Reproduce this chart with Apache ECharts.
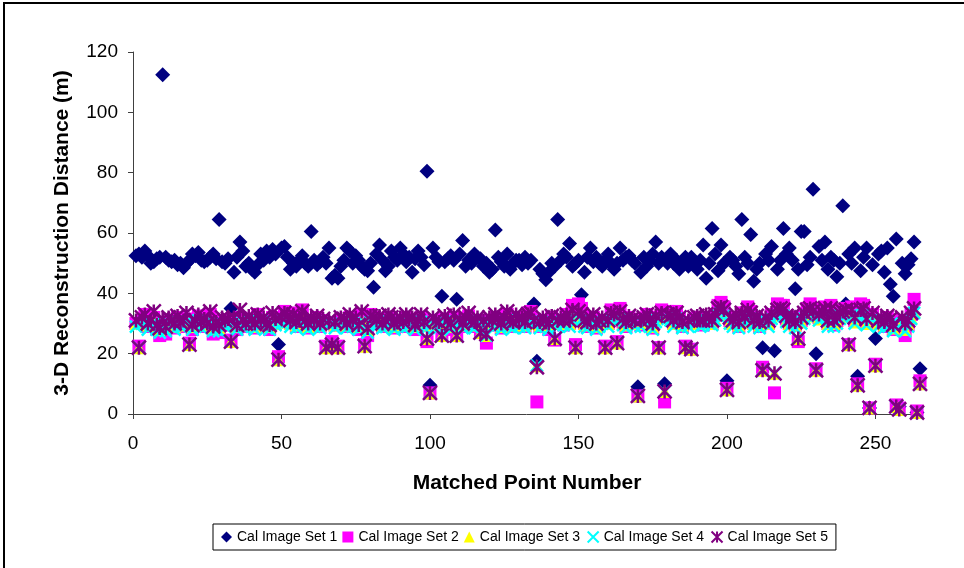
<!DOCTYPE html>
<html>
<head>
<meta charset="utf-8">
<script src="https://cdn.jsdelivr.net/npm/echarts@6/dist/echarts.min.js"></script>
<style>
html,body{margin:0;padding:0;background:#fff;}
#chart{width:964px;height:568px;}
</style>
</head>
<body>
<div id="chart"></div>
<script>
// ---- data (point number = position in array, starting at 1) ----
const seriesNames = ['Cal Image Set 1','Cal Image Set 2','Cal Image Set 3','Cal Image Set 4','Cal Image Set 5'];
const xTicks = [0, 50, 100, 150, 200, 250];
const yTicks = [0, 20, 40, 60, 80, 100, 120];

const set1 = [
52.5,53,52,54,52.5,50,50.5,51.5,52,112.5,
52,51,50.5,51,49.5,50,48.5,50,51,53,
52.5,53.5,51,50.5,51,52,53,51.5,64.5,50.5,
50,51.5,35,47,52,57,54,49,50,48,
47,49.5,53,51,54,52,54.5,53,23,55,
55.5,52,48,50,49,51,52.5,50,49,60.5,
51,49.5,50.5,52,50,55,45,46,45,49,
51,55,54,50,52.5,51,49,48,47.5,50,
42,53,56,51,47.5,49,54,52,51,55,
53,50.5,52,47,51.5,54,52,49.5,80.5,9.5,
55,52,50.5,39,50.5,51.5,52.5,51,38,53,
57.5,49,51,50,53,52,51.5,49,50,47,
48,61,52,50.5,49,53,48,50,51,51,
49.5,52,50,51,36.5,17.5,48,46.5,44.5,47,
50,49,64.5,51,53,52,56.5,49,50,51,
39.5,47,52,55,50.5,52,50,49,51,53,
50,48,50,55,51,52,52.5,51,50,9,
47,52,49,51,53,57,50,52,10,50,
53,50,51,48,50,52,49,52,50.5,48,
51,56,45,50,61.5,53,47.5,56,50,11,
52,51,49,46.5,64.5,52,50,59.5,44,48,
50,22,53,51,55.5,21,48,51,61.5,53,
55,51,41.5,48,60.5,60.5,49.5,52,74.5,20,
55.5,51,57,48,52,51,45.5,50,69,36.5,
53,50,55,12.5,47.5,52,55,2,49.5,25,
53,54,47,55,43,39,58,2.5,50,46.5,
49.5,51.5,57,0.5,15
];

const set2 = [
30,22.5,31,33,29,30.5,32,28,26,29.5,
26.5,31,30,28.5,32,29,30,31.5,23.5,28,
30,32.5,29,31,30,33,26.5,28,27,31,
29.5,30,24.5,31,28,32,30,29,31.5,30,
28.5,33,30,31,29,28,32,30.5,19,31,
34,32,30,33.5,29,31,34.5,30,28.5,31,
30,32,29,31,22.5,30,24,29.5,22.5,31,
30.5,29,32,30,31,28,33,23,26,33,
32,30,31.5,29,30,32,31,28.5,30,31,
29,32,30.5,31,28,30,32,29.5,24,7,
31,30,29,26.5,31.5,30,28,32,26,30.5,
29,31,32.5,30,29,31,27,30,23.5,31,
29.5,32,30,28.5,31,33,30,29,32,30.5,
31,29,33.5,34,30,4,29,31,30.5,28,
32,24.5,30,31,29.5,33,30,36,23,36.5,
35,30,29,31,32,28.5,30,31,22.5,30,
34.5,33,24,35,30.5,29,32,31,30,6,
29.5,31,33,30,28.5,32,22,34.5,4,34,
33,30,34,31.5,29,22.5,30,21.5,31,32,
30,29.5,32,31,30,33,36,37,35.5,8.5,
31,30,32,29,33.5,31,35.5,34,30,32,
29,15.5,31,30,33,7,36.5,36,36,31.5,
30,32,29.5,24,31,33,35,36.5,35,15,
32,34,35.5,30,36,29.5,31,33,34.5,35,
23,35.5,31,10,36.5,36,30.5,2,33,16.5,
30,31,29,32,30.5,28,3,2,31,26,
29.5,33,38,1,11
];

const set3 = [
30,22,30.5,31,29.5,30,31,29,28,30,
28.5,30.5,30,29,31,29.5,30,31,23,29,
30,31.5,29.5,30.5,30,31,28.5,29,28.5,30.5,
30,30,24,30.5,29,31,30,29.5,31,30,
29,31.5,30,30.5,29.5,29,31,30,18,30.5,
31,31,30,31.5,29.5,30.5,31.5,30,29,30.5,
30,31,29.5,30.5,22,30,23,29.5,22,30.5,
30,29.5,31,30,30.5,29,31,22.5,28,31,
31,30,30.5,29.5,30,31,30.5,29,30,30.5,
29.5,31,30,30.5,29,30,31,29.5,25,7,
30.5,30,29.5,26,31,30,29,31,26,30,
29.5,30.5,31,30,29.5,30.5,27,30,26,30.5,
30,31,30,29,30.5,31.5,30,29.5,31,30,
30.5,29.5,31,31,30,16,29.5,30.5,30,29,
31,25,30,30.5,30,31.5,30,32,22,32.5,
31.5,30,29.5,30.5,31,29,30,30.5,22,30,
32,31.5,23.5,32,30,29.5,31,30.5,30,6,
30,30.5,31.5,30,29,31,22,32,7.5,32,
31.5,30,32,31,29.5,22,30,21.5,30.5,31,
30,30,31.5,30.5,30,31.5,33,34,33,8,
30.5,30,31.5,29.5,32,30.5,33,32,30,31,
29.5,14.5,30.5,30,32,13.5,33,33.5,33,31,
30,31,29.5,25,30.5,32,33,33.5,32.5,14.5,
31.5,32.5,33,30,33.5,30,30.5,32,32.5,33,
23,33,30.5,9.5,33,33.5,30,2,32,16,
30,30.5,29.5,31,30,28.5,2.5,1.5,30.5,28,
30,32,34,0.5,10
];

const set4 = [
29,22,30,30.5,28,29.5,30,28,27,29,
27.5,30,29,28,30.5,29,29,30.5,23,28,
29,31,28.5,30,29.5,30.5,27.5,28,27.5,30,
29,29.5,24,30,28,30.5,29,28.5,30.5,29,
28,31,29.5,30,28.5,28,30.5,29.5,18,30,
30.5,30.5,29,31,28.5,30,31,29,28,30,
29,30.5,28.5,30,22,29.5,23,28.5,22,30,
29.5,28.5,30.5,29,30,28,30.5,22.5,27,30.5,
30.5,29,30,28.5,29,30.5,30,28,29,30,
28.5,30.5,29.5,30,28,29,30.5,28.5,25,7,
30,29,28.5,26,30.5,29,28,30.5,26,29.5,
28.5,30,30.5,29,28.5,30,27,29,26,30,
29,30.5,29.5,28,30,31,29,28.5,30.5,29,
30,28.5,30.5,30.5,29.5,16,28.5,30,29,28,
30.5,25,29,30,29.5,31,29,31.5,22,32,
31,29,28.5,30,30.5,28,29,30,22,29,
31.5,31,23.5,31.5,29.5,28.5,30.5,30,29,6,
29,30,31,29,28,30.5,22,31.5,7.5,31.5,
31,29,31.5,30.5,28.5,22,29,21.5,30,30.5,
29,29.5,31,30,29.5,31,32.5,33.5,32.5,8,
30,29,31,28.5,31.5,30,32.5,31.5,29,30.5,
28.5,14.5,30,29,31.5,13.5,32.5,33,32.5,30.5,
29,30.5,28.5,25,30,31.5,32.5,33,32,14.5,
31,32,32.5,29,33,29,30,31.5,32,32.5,
23,32.5,30,9.5,32.5,33,29.5,2,31.5,16,
29,30,28.5,30.5,29.5,27.5,2.5,1.5,30,27.5,
29,31.5,33.5,0.5,10
];

const set5 = [
31,22,32,33,30,31,34,29.5,28.5,31.5,
29,32,31,30,32.5,30.5,31,33.5,23,29.5,
31,33,30.5,31.5,30,34,29,30.5,29.5,32,
31,31.5,24,32,29.5,34.5,31,30,32.5,31,
30,33,31,32,30,29.5,33.5,31.5,18,32,
33.5,32.5,31,33,30.5,32,34,31,30,32,
31,32.5,30,31.5,22,31,23,30.5,22,32,
31.5,30,33,31,32,29.5,34,22.5,28.5,32.5,
32,31,32.5,30,31,33,32,30,31,32,
30.5,33,31.5,32,29.5,31,33,30.5,25,7,
32,31,30.5,26,32.5,31,30,33,26,31.5,
30,32,33.5,31,30.5,32,27,31,26.5,32,
31,33,31.5,30,32,34,31,30.5,33,31.5,
32,30.5,33,33.5,31,15.5,30.5,32,31,30,
32.5,25,31,32,31,33,31,34.5,22,34,
33,31,30.5,32,33,30,31,32,22,31,
33.5,33,23.5,34,31.5,30.5,32.5,31.5,31,6,
31,32,33,31.5,30,32.5,22,33.5,7.5,33,
32.5,31,33.5,32,30.5,22,31,21.5,32,32.5,
31,31,33,32,31,33,35,35.5,34.5,8,
32,31,33,30.5,33.5,32,34.5,33.5,31,32.5,
30.5,14.5,32,31,33.5,13.5,34.5,35,34.5,32.5,
31,32.5,30.5,25,32,33.5,34.5,35,34,14.5,
33,34,35,31,35,31,32,33.5,34,34.5,
23,34.5,32,9.5,34.5,35,31.5,2,33.5,16,
31,32,30.5,32.5,31.5,29.5,2.5,1.5,32,30,
31,33.5,35,0.5,10
];

// ---- chart ----
const FONT = 'Liberation Sans, Arial, sans-serif';
function toPairs(arr){ return arr.map((v,i)=>[i+1, v]); }

const xPath = 'path://M0,0L10,10M10,0L0,10';
const starPath = 'path://M0,0L10,10M10,0L0,10M5,0L5,10';

const chart = echarts.init(document.getElementById('chart'), null, {renderer:'canvas'});
chart.setOption({
  animation:false,
  backgroundColor:'#fff',
  grid:{left:133, right:44, top:52, bottom:154, containLabel:false},
  xAxis:{
    type:'value', min:0, max:265,
    axisLine:{show:true, onZero:false, lineStyle:{color:'#404040', width:1}},
    axisTick:{show:true, length:5, inside:false, customValues:xTicks, lineStyle:{color:'#404040'}},
    axisLabel:{customValues:xTicks, margin:20, color:'#000', fontSize:19, fontFamily:FONT},
    splitLine:{show:false}
  },
  yAxis:{
    type:'value', min:0, max:120, interval:20,
    axisLine:{show:true, lineStyle:{color:'#404040', width:1}},
    axisTick:{show:true, length:5, inside:false, lineStyle:{color:'#404040'}},
    axisLabel:{margin:15, color:'#000', fontSize:19, fontFamily:FONT},
    splitLine:{show:false}
  },
  legend:{
    left:213, top:524, orient:'horizontal',
    padding:[5,8], itemGap:5, itemWidth:11, itemHeight:11,
    borderColor:'#000', borderWidth:1,
    textStyle:{fontSize:14, fontFamily:FONT, color:'#000'},
    data:seriesNames
  },
  graphic:[
    {type:'rect', shape:{x:4, y:3, width:980, height:590}, style:{fill:'none', stroke:'#000', lineWidth:2}, silent:true},
    {type:'text', x:527, y:483, style:{text:'Matched Point Number', font:'bold 21px '+FONT, fill:'#000', textAlign:'center', textVerticalAlign:'middle'}},
    {type:'text', x:62, y:233, rotation:Math.PI/2, style:{text:'3-D Reconstruction Distance (m)', font:'bold 21px '+FONT, fill:'#000', textAlign:'center', textVerticalAlign:'middle'}}
  ],
  series:[
    {name:seriesNames[0], type:'scatter', symbol:'diamond', symbolSize:15, itemStyle:{color:'#000080', opacity:1}, data:toPairs(set1)},
    {name:seriesNames[1], type:'scatter', symbol:'rect', symbolSize:13, itemStyle:{color:'#FF00FF', opacity:1}, data:toPairs(set2)},
    {name:seriesNames[2], type:'scatter', symbol:'triangle', symbolSize:13, itemStyle:{color:'#FFFF00', opacity:1}, data:toPairs(set3)},
    {name:seriesNames[3], type:'scatter', symbol:xPath, symbolKeepAspect:true, symbolSize:12, itemStyle:{color:'none', borderColor:'#00FFFF', borderWidth:2.5, opacity:1}, data:toPairs(set4)},
    {name:seriesNames[4], type:'scatter', symbol:starPath, symbolKeepAspect:true, symbolSize:14, itemStyle:{color:'none', borderColor:'#800080', borderWidth:2.5, opacity:1}, data:toPairs(set5)}
  ]
});
</script>
</body>
</html>
